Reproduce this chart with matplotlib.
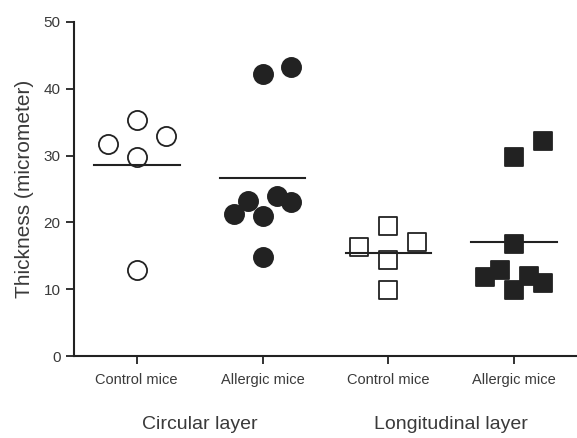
import numpy as np
import matplotlib
matplotlib.use("Agg")
from matplotlib import pyplot as plt

# thickness values (micrometer)
groups = ["Control mice", "Allergic mice", "Control mice", "Allergic mice"]
layers = ["Circular layer", "Longitudinal layer"]

circ_control = [31.7, 35.3, 32.9, 29.8, 12.9]
circ_allergic = [21.3, 23.2, 21.0, 24.0, 23.0, 14.8, 42.2, 43.3]
long_control = [16.3, 19.5, 17.1, 14.4, 9.9]
long_allergic = [11.8, 12.9, 9.9, 12.0, 10.9, 16.8, 29.8, 32.2]

# horizontal jitter of the dots inside each column
circ_control_dx = [-0.23, 0.0, 0.23, 0.0, 0.0]
circ_allergic_dx = [-0.23, -0.115, 0.0, 0.115, 0.23, 0.0, 0.0, 0.23]
long_control_dx = [-0.23, 0.0, 0.23, 0.0, 0.0]
long_allergic_dx = [-0.23, -0.115, 0.0, 0.115, 0.23, 0.0, 0.0, 0.23]

plt.rcParams['font.family'] = ['Liberation Sans', 'DejaVu Sans']
dark = '#222222'
txt = '#3a3a3a'

fig = plt.figure(figsize=(5.77, 4.38), dpi=100)
ax = fig.add_axes([0.128, 0.187, 0.872, 0.763])

series = [
    (circ_control, circ_control_dx, 'o', 'white', 190),
    (circ_allergic, circ_allergic_dx, 'o', dark, 190),
    (long_control, long_control_dx, 's', 'white', 180),
    (long_allergic, long_allergic_dx, 's', dark, 180),
]
for i, (vals, dx, m, fc, s) in enumerate(series):
    ax.scatter(i + np.array(dx), vals, marker=m, s=s, facecolor=fc,
               edgecolor=dark, linewidth=1.3, zorder=3)
    ax.plot([i - 0.34, i + 0.34], [np.mean(vals)] * 2, color=dark, lw=1.5, zorder=4)

ax.set_xlim(-0.5, 3.5)
ax.set_ylim(0, 50)
ax.set_yticks([0, 10, 20, 30, 40, 50])
ax.set_xticks(range(4))
ax.set_xticklabels(groups)
ax.tick_params(axis='both', direction='out', length=6, width=1.3, color=dark,
               labelcolor=txt, labelsize=11)
ax.tick_params(axis='x', labelsize=10.5, pad=6)
for side in ['top', 'right']:
    ax.spines[side].set_visible(False)
for side in ['left', 'bottom']:
    ax.spines[side].set_color(dark)
    ax.spines[side].set_linewidth(1.5)

ax.set_ylabel("Thickness (micrometer)", fontsize=15, color=txt, labelpad=7)

for j, name in enumerate(layers):
    ax.text(2 * j + 0.5, -10.3, name, ha='center', va='center', fontsize=14,
            color=txt)

fig.savefig("out.png", dpi=100)
